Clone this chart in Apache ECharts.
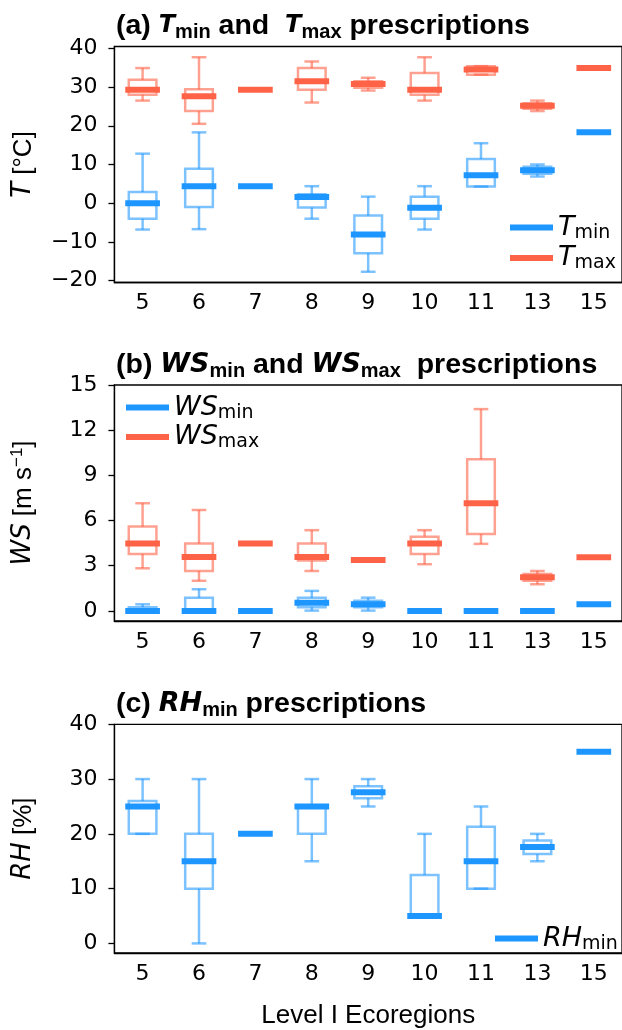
<!DOCTYPE html>
<html><head><meta charset="utf-8">
<script src="https://cdn.jsdelivr.net/npm/echarts@6/dist/echarts.min.js"></script>
<style>html,body{margin:0;padding:0;background:#fff}#c{width:622px;height:1030px}</style>
</head><body><div id="c"></div>
<script>
// ---------- DATA ----------
const categories = ['5','6','7','8','9','10','11','13','15'];

// Panel (a) temperature [°C]
const tminLow  = [-6.8, -6.7, 4.4, -4.0, -17.7, -6.8, 4.3, 6.9, 18.3];
const tminQ1   = [-4.0, -1.0, 4.4, -1.1, -12.9, -4.0, 4.3, 7.6, 18.3];
const tminMed  = [ 0.0,  4.4, 4.4,  1.6,  -8.1, -1.2, 7.2, 8.5, 18.3];
const tminQ3   = [ 2.9,  8.9, 4.4,  2.3,  -3.2,  1.7, 11.4, 9.4, 18.3];
const tminHigh = [12.8, 18.3, 4.4,  4.4,   1.7,  4.4, 15.5, 10.0, 18.3];

const tmaxLow  = [26.5, 20.5, 29.3, 26.0, 29.1, 26.5, 33.2, 23.8, 34.9];
const tmaxQ1   = [28.0, 23.8, 29.3, 29.3, 29.8, 28.0, 33.2, 24.4, 34.9];
const tmaxMed  = [29.3, 27.6, 29.3, 31.5, 30.8, 29.3, 34.5, 25.2, 34.9];
const tmaxQ3   = [31.9, 29.4, 29.3, 34.9, 31.5, 33.6, 35.4, 25.8, 34.9];
const tmaxHigh = [34.9, 37.7, 29.3, 36.6, 32.4, 37.7, 35.4, 26.5, 34.9];

// Panel (b) wind speed [m s-1]
const wsminLow  = [0, 0,    0, 0.02, 0.02, 0, 0, 0, 0.44];
const wsminQ1   = [0, 0,    0, 0.25, 0.25, 0, 0, 0, 0.44];
const wsminMed  = [0, 0,    0, 0.55, 0.44, 0, 0, 0, 0.44];
const wsminQ3   = [0.25, 0.88, 0, 0.88, 0.68, 0, 0, 0, 0.44];
const wsminHigh = [0.44, 1.44, 0, 1.33, 0.88, 0, 0, 0, 0.44];

const wsmaxLow  = [2.83, 2.0,  4.47, 2.65, 3.30, 3.10, 4.45, 1.77, 3.56];
const wsmaxQ1   = [3.78, 2.65, 4.47, 3.34, 3.30, 3.78, 5.11, 2.00, 3.56];
const wsmaxMed  = [4.47, 3.58, 4.47, 3.58, 3.38, 4.47, 7.15, 2.23, 3.56];
const wsmaxQ3   = [5.60, 4.47, 4.47, 4.47, 3.45, 4.93, 10.07, 2.45, 3.56];
const wsmaxHigh = [7.15, 6.70, 4.47, 5.36, 3.45, 5.36, 13.40, 2.65, 3.56];

// Panel (c) relative humidity [%]
const rhminLow  = [20, 0,  20, 15, 25.0, 5,    10,   15.0, 35];
const rhminQ1   = [20, 10, 20, 20, 26.5, 5,    10,   16.3, 35];
const rhminMed  = [25, 15, 20, 25, 27.6, 5,    15,   17.6, 35];
const rhminQ3   = [26, 20, 20, 25, 28.7, 12.5, 21.3, 18.8, 35];
const rhminHigh = [30, 30, 20, 30, 30.0, 20,   25,   20.0, 35];

// Tick labels
const tTicks  = [-20, -10, 0, 10, 20, 30, 40];
const wsTicks = [0, 3, 6, 9, 12, 15];
const rhTicks = [0, 10, 20, 30, 40];

// ---------- STYLE ----------
const BLUE = '#1E96FF', BLUE_L = 'rgba(30,150,255,0.58)';
const RED = '#FF6347', RED_L = 'rgba(255,99,71,0.6)';

function build(lo, q1, md, q3, hi) {
  return categories.map((c, i) => [i, lo[i], q1[i], md[i], q3[i], hi[i]]);
}
function boxRenderer(color, light) {
  return function (params, api) {
    const x = api.value(0);
    const lo = api.coord([x, api.value(1)]);
    const q1 = api.coord([x, api.value(2)]);
    const md = api.coord([x, api.value(3)]);
    const q3 = api.coord([x, api.value(4)]);
    const hi = api.coord([x, api.value(5)]);
    const band = api.size([1, 0])[0];
    const cx = md[0];
    const bw = band * 0.49, mw = band * 0.615, cw = band * 0.26;
    const ls = {stroke: light, lineWidth: 2.5, fill: 'rgba(0,0,0,0)'};
    return {type: 'group', children: [
      {type: 'line', shape: {x1: cx, y1: q3[1], x2: cx, y2: hi[1]}, style: ls},
      {type: 'line', shape: {x1: cx, y1: q1[1], x2: cx, y2: lo[1]}, style: ls},
      {type: 'line', shape: {x1: cx - cw / 2, y1: hi[1], x2: cx + cw / 2, y2: hi[1]}, style: ls},
      {type: 'line', shape: {x1: cx - cw / 2, y1: lo[1], x2: cx + cw / 2, y2: lo[1]}, style: ls},
      {type: 'rect', shape: {x: cx - bw / 2, y: q3[1], width: bw, height: q1[1] - q3[1]}, style: ls},
      {type: 'line', shape: {x1: cx - mw / 2, y1: md[1], x2: cx + mw / 2, y2: md[1]}, style: {stroke: color, lineWidth: 6}}
    ]};
  };
}
function series(name, idx, color, light, arrs) {
  return {type: 'custom', name: name, xAxisIndex: idx, yAxisIndex: idx,
    renderItem: boxRenderer(color, light), itemStyle: {color: color},
    encode: {x: 0, y: [1, 2, 3, 4, 5]}, data: build.apply(null, arrs), clip: false};
}
const fmt = v => v < 0 ? '\u2212' + Math.abs(v) : String(v);

const grids = [
  {left: 114.4, width: 508.5, top: 46.5, height: 236},
  {left: 114.4, width: 508.5, top: 385, height: 236},
  {left: 114.4, width: 508.5, top: 724.3, height: 236}
].map(g => Object.assign(g, {show: true, borderColor: '#000', borderWidth: 1.3, containLabel: false}));

const tickFont = {fontFamily: 'DejaVu Sans', fontSize: 22, color: '#000'};
function xAxis(i, extra) {
  return Object.assign({gridIndex: i, type: 'category', data: categories, boundaryGap: true,
    axisLine: {onZero: false, lineStyle: {color: '#000', width: 1.3}},
    axisTick: {alignWithLabel: true, length: 6, lineStyle: {color: '#000', width: 1.3}},
    axisLabel: Object.assign({margin: 10, interval: 0}, tickFont),
    splitLine: {show: false}}, extra || {});
}
const nameRich = {
  i: {fontFamily: 'DejaVu Sans', fontStyle: 'italic', fontSize: 26, lineHeight: 30, color: '#000'},
  r: {fontFamily: 'Liberation Sans', fontSize: 26, lineHeight: 30, color: '#000'},
  sup: {fontFamily: 'Liberation Sans', fontSize: 17, lineHeight: 17, verticalAlign: 'top', color: '#000'}
};
function yAxis(i, min, max, ticks, name) {
  return {gridIndex: i, type: 'value', min: min, max: max,
    axisLine: {show: true, lineStyle: {color: '#000', width: 1.3}},
    axisTick: {show: true, length: 6, customValues: ticks, lineStyle: {color: '#000', width: 1.3}},
    axisLabel: Object.assign({margin: 17, customValues: ticks, formatter: fmt}, tickFont),
    splitLine: {show: false},
    name: name, nameLocation: 'middle', nameRotate: 90, nameGap: 76,
    nameTextStyle: {rich: nameRich}};
}

const titleRich = (mathSize) => ({
  p: {fontFamily: 'Liberation Sans', fontWeight: 'bold', fontSize: 28.5, lineHeight: 32, color: '#000'},
  t: {fontFamily: 'DejaVu Sans', fontWeight: 'bold', fontStyle: 'italic', fontSize: mathSize, lineHeight: 32, color: '#000'},
  s: {fontFamily: 'Liberation Sans', fontWeight: 'bold', fontSize: 20, lineHeight: 18, verticalAlign: 'bottom', color: '#000'}
});
function title(text, top, mathSize) {
  return {text: text, left: 116, top: top, padding: 0, textStyle: {rich: titleRich(mathSize)}};
}

const legendNames = {Tmin: ['T', 'min'], Tmax: ['T', 'max'], WSmin: ['WS', 'min'], WSmax: ['WS', 'max'], RHmin: ['RH', 'min']};
const legendRich = {
  i: {fontFamily: 'DejaVu Sans', fontStyle: 'italic', fontSize: 27, lineHeight: 30, color: '#000'},
  s: {fontFamily: 'DejaVu Sans', fontSize: 19, lineHeight: 19, verticalAlign: 'bottom', color: '#000'}
};
function legend(data, left, top, gap) {
  return {data: data, orient: 'vertical', left: left, top: top, padding: 0, itemGap: gap,
    itemWidth: 43, itemHeight: 6, icon: 'rect', selectedMode: false, itemStyle: {borderWidth: 0},
    formatter: n => '{i|' + legendNames[n][0] + '}{s|' + legendNames[n][1] + '}',
    textStyle: {rich: legendRich}};
}

const option = {
  animation: false,
  backgroundColor: '#fff',
  title: [
    title('{p|(a) }{t|T}{s|min}{p| and  }{t|T}{s|max}{p| prescriptions}', 10, 24),
    title('{p|(b) }{t|WS}{s|min}{p| and }{t|WS}{s|max}{p|  prescriptions}', 349, 27),
    title('{p|(c) }{t|RH}{s|min}{p| prescriptions}', 688, 27)
  ],
  legend: [
    legend(['Tmin', 'Tmax'], 510, 214, 2),
    legend(['WSmin', 'WSmax'], 126, 394, 1),
    legend(['RHmin'], 495, 925, 2)
  ],
  grid: grids,
  xAxis: [xAxis(0), xAxis(1),
    xAxis(2, {name: 'Level I Ecoregions', nameLocation: 'middle', nameGap: 50,
      nameTextStyle: {fontFamily: 'Liberation Sans', fontSize: 26, color: '#000'}})],
  yAxis: [
    yAxis(0, -20.47, 40.47, tTicks, '{i|T}{r| [°C]}'),
    yAxis(1, -0.67, 15, wsTicks, '{i|WS}{r| [m s}{sup|\u22121}{r|]}'),
    yAxis(2, -1.75, 40, rhTicks, '{i|RH}{r| [%]}')
  ],
  series: [
    series('Tmin', 0, BLUE, BLUE_L, [tminLow, tminQ1, tminMed, tminQ3, tminHigh]),
    series('Tmax', 0, RED, RED_L, [tmaxLow, tmaxQ1, tmaxMed, tmaxQ3, tmaxHigh]),
    series('WSmin', 1, BLUE, BLUE_L, [wsminLow, wsminQ1, wsminMed, wsminQ3, wsminHigh]),
    series('WSmax', 1, RED, RED_L, [wsmaxLow, wsmaxQ1, wsmaxMed, wsmaxQ3, wsmaxHigh]),
    series('RHmin', 2, BLUE, BLUE_L, [rhminLow, rhminQ1, rhminMed, rhminQ3, rhminHigh])
  ]
};
const chart = echarts.init(document.getElementById('c'), null, {renderer: 'canvas'});
chart.setOption(option);
</script>
</body></html>
